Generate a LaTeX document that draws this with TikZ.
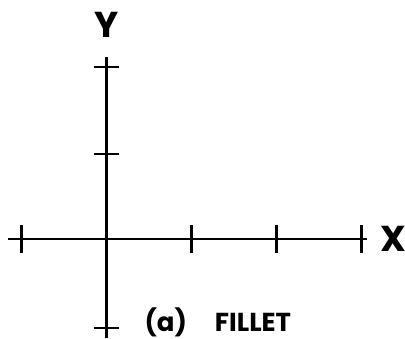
\documentclass[tikz,border=0pt]{standalone}
\usepackage{fontspec}
\setmainfont{Poppins}
\usepackage{tikz}

\begin{document}
\begin{tikzpicture}[
    x=42.5pt, y=42.5pt,
    axis/.style={line width=1.1pt},
    tick/.style={line width=1.1pt},
    label/.style={inner sep=0pt, font=\fontsize{18}{20}\selectfont\bfseries},
    caption/.style={inner sep=0pt, font=\fontsize{13}{15}\selectfont\bfseries}
]
\useasboundingbox (-1.253,-1.176) rectangle (3.512,2.812);

% Axes end points
\coordinate (O) at (0,0);
\coordinate (xmin) at (-1.16,0);
\coordinate (xmax) at (3.07,0);
\coordinate (ymin) at (0,-1.17);
\coordinate (ymax) at (0,2.14);

% Axes
\draw[axis] (xmin) -- (xmax);
\draw[axis] (ymin) -- (ymax);

% Ticks
\foreach \i in {-1,1,2,3}
    \draw[tick] (\i,-0.16) -- (\i,0.16);
\foreach \j in {-1.05,1,2.02}
    \draw[tick] (-0.15,\j) -- (0.15,\j);

% Labels
\node[label] (ylab) at (0,2.52) {Y};
\node[label] (xlab) at (3.38,0) {X};
\node[caption] (cap) at (1.31,-0.976) {(a)\hspace{14pt}FILLET};

\end{tikzpicture}
\end{document}
